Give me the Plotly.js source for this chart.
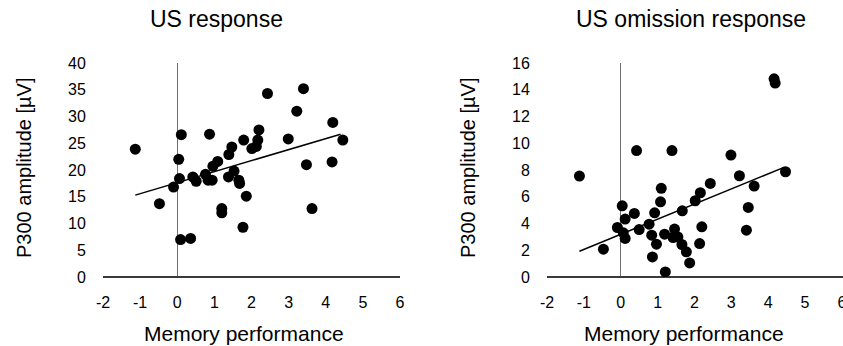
<!DOCTYPE html>
<html><head><meta charset="utf-8">
<script src="https://cdn.plot.ly/plotly-3.0.1.min.js"></script>
<style>html,body{margin:0;padding:0;background:#fff}#chart{width:843px;height:346px}</style>
</head><body><div id="chart"></div>
<script>
// US response
const usX = [-1.13,-0.48,0.11,0.04,0.06,-0.10,0.09,0.36,0.42,0.51,0.87,0.76,0.83,0.94,0.96,1.09,1.20,1.20,1.39,1.47,1.38,1.53,1.66,1.68,1.86,1.77,1.79,2.01,2.13,2.17,2.20,2.43,2.99,3.22,3.40,3.48,3.63,4.17,4.19,4.46];
const usY = [23.9,13.7,26.6,22.0,18.4,16.8,7.0,7.2,18.7,17.9,26.7,19.2,18.1,18.1,20.7,21.6,12.8,12.0,22.9,24.3,18.7,19.8,18.1,17.5,15.1,9.3,25.6,24.0,24.4,25.6,27.5,34.3,25.8,31.0,35.2,21.0,12.8,21.5,28.9,25.6];
const usTrendX = [-1.13, 4.40];
const usTrendY = [15.3, 26.7];
// US omission response
const omX = [-1.12,-0.47,0.04,0.12,-0.09,0.07,0.12,0.37,0.43,0.50,0.77,0.84,0.86,0.97,0.92,1.08,1.10,1.19,1.21,1.39,1.42,1.46,1.55,1.67,1.66,1.78,1.87,2.02,2.16,2.20,2.14,2.43,2.99,3.22,3.41,3.46,3.62,4.16,4.19,4.47];
const omY = [7.55,2.08,5.32,4.33,3.70,3.30,2.88,4.75,9.45,3.55,3.95,3.13,1.50,2.45,4.80,5.62,6.63,3.20,0.38,9.45,2.95,3.58,3.00,4.95,2.43,1.88,1.05,5.70,6.30,3.75,2.50,7.00,9.12,7.57,3.50,5.20,6.80,14.82,14.50,7.87];
const omTrendX = [-1.12, 4.43];
const omTrendY = [1.93, 8.2];

const xTicks = [-2,-1,0,1,2,3,4,5,6];
const usYTicks = [0,5,10,15,20,25,30,35,40];
const omYTicks = [0,2,4,6,8,10,12,14,16];
const titles = ['US response','US omission response'];
const xTitle = 'Memory performance';
const yTitle = 'P300 amplitude [µV]';

const FONT = 'Liberation Sans, Arial, sans-serif';
const mk = {color:'#000', size:11};
const traces = [
  {x:usX, y:usY, type:'scatter', mode:'markers', marker:mk, xaxis:'x', yaxis:'y', hoverinfo:'none'},
  {x:usTrendX, y:usTrendY, type:'scatter', mode:'lines', line:{color:'#000', width:1.5}, xaxis:'x', yaxis:'y', hoverinfo:'none'},
  {x:omX, y:omY, type:'scatter', mode:'markers', marker:mk, xaxis:'x2', yaxis:'y2', hoverinfo:'none'},
  {x:omTrendX, y:omTrendY, type:'scatter', mode:'lines', line:{color:'#000', width:1.5}, xaxis:'x2', yaxis:'y2', hoverinfo:'none'}
];
const W = 843, H = 346;
const yDom = [(H-277)/H, (H-63)/H];
function xa(d0,d1,anchor,rmax){
  return {domain:[d0/W, d1/W], range:[-2,rmax], tickvals:xTicks, ticktext:xTicks.map(String), anchor:anchor,
    showgrid:false, showline:false, zeroline:true, zerolinecolor:'#6e6e6e', zerolinewidth:1.5,
    ticks:'outside', ticklen:11, tickcolor:'rgba(0,0,0,0)', tickfont:{family:FONT,size:16,color:'#000'},
    ticklabeloverflow:'allow', fixedrange:true};
}
function ya(r, tv, anchor){
  return {domain:yDom, range:r, tickvals:tv, ticktext:tv.map(String), anchor:anchor,
    showgrid:false, showline:false, zeroline:true, zerolinecolor:'#3a3a3a', zerolinewidth:1.5,
    ticks:'outside', ticklen:13, tickcolor:'rgba(0,0,0,0)', tickfont:{family:FONT,size:16,color:'#000'},
    fixedrange:true};
}
function ann(text, x, y, size, rot){
  return {text:text, x:x/W, y:(H-y)/H, xref:'paper', yref:'paper', showarrow:false, textangle:rot||0,
    xanchor:'center', yanchor:'middle', font:{family:FONT,size:size,color:'#000'}};
}
const layout = {
  width:W, height:H, margin:{l:0,r:0,t:0,b:0}, showlegend:false,
  paper_bgcolor:'#fff', plot_bgcolor:'#fff', font:{family:FONT,color:'#000'},
  xaxis: xa(103, 400, 'y', 6),
  yaxis: ya([0,40], usYTicks, 'x'),
  xaxis2: xa(547, 843, 'y2', 6.03),
  yaxis2: ya([0,16], omYTicks, 'x2'),
  annotations: [
    ann(titles[0], 216, 19, 23),
    ann(titles[1], 691, 19, 23),
    ann(xTitle, 244, 333, 21),
    ann(xTitle, 684, 333, 21),
    ann(yTitle, 24, 168, 20, -90),
    ann(yTitle, 468, 168, 20, -90)
  ]
};
Plotly.newPlot('chart', traces, layout, {staticPlot:true, displayModeBar:false});
</script></body></html>
